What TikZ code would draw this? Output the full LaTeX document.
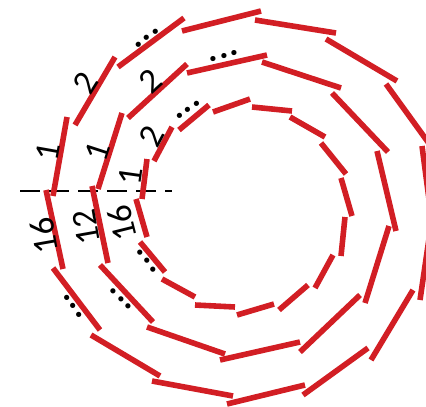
\documentclass[tikz,border=0pt]{standalone}
\usepackage{fontspec}
\setmainfont{Carlito}
\definecolor{segred}{RGB}{210,30,36}
\newcommand{\ringdots}{\textbf{.\kern1.2pt.\kern1.2pt.}}
\begin{document}
\begin{tikzpicture}[x=1pt,y=-1pt,
  seg/.style={draw=segred,line width=5.6pt,line cap=butt},
  lab/.style={font=\fontsize{35}{35}\selectfont,inner sep=0pt,text=black},
  cutline/.style={draw=black,line width=2.4pt,dash pattern=on 20pt off 9pt}]
\useasboundingbox (0,0) rectangle (426,407);
\clip (0,0) rectangle (426,407);
% dashed reference line
\coordinate (dl) at (20,191);
\coordinate (dr) at (172,191);
\draw[cutline] (dl) -- (dr);
% outer ring (16)
\foreach \a/\b in {
  {(53,196)}/{(67,117)}, {(75,125)}/{(115,57)}, {(118,67)}/{(184,18)},
  {(182,31)}/{(261,11)}, {(255,20)}/{(336,33)}, {(326,39)}/{(397,81)},
  {(386,84)}/{(433,149)}, {(422,146)}/{(432,222)}, {(430,232)}/{(420,300)},
  {(413,290)}/{(371,360)}, {(368,348)}/{(303,395)}, {(305,385)}/{(227,404)},
  {(233,396)}/{(152,381)}, {(160,376)}/{(91,335)}, {(100,330)}/{(53,268)},
  {(63,269)}/{(46,190)}}
  \draw[seg] \a -- \b;
% middle ring (12)
\foreach \a/\b in {
  {(98,189)}/{(122,113)}, {(128,118)}/{(187,64)}, {(187,73)}/{(267,55)},
  {(262,62)}/{(341,88)}, {(332,93)}/{(388,152)}, {(377,151)}/{(396,231)},
  {(389,226)}/{(365,303)}, {(360,295)}/{(300,352)}, {(300,342)}/{(220,360)},
  {(225,354)}/{(147,327)}, {(153,322)}/{(100,265)}, {(108,263)}/{(92,186)}}
  \draw[seg] \a -- \b;
% inner ring (16)
\foreach \a/\b in {
  {(142,199)}/{(147,159)}, {(154,161)}/{(172,127)}, {(179,130)}/{(209,105)},
  {(213,112)}/{(250,99)}, {(252,107)}/{(292,111)}, {(290,117)}/{(325,137)},
  {(321,143)}/{(346,174)}, {(341,178)}/{(352,216)}, {(345,217)}/{(341,256)},
  {(333,255)}/{(315,288)}, {(308,285)}/{(279,310)}, {(274,304)}/{(237,315)},
  {(235,307)}/{(195,305)}, {(195,297)}/{(162,279)}, {(165,272)}/{(140,242)},
  {(147,237)}/{(136,199)}}
  \draw[seg] \a -- \b;
% labels
\node[lab,rotate=80]  (o1)  at (48,152) {1};
\node[lab,rotate=58]  (o2)  at (86,83)  {2};
\node[lab,rotate=38]  (od)  at (147,38) {\ringdots};
\node[lab,rotate=72]  (m1)  at (98,152) {1};
\node[lab,rotate=42]  (m2)  at (150,81) {2};
\node[lab,rotate=15]  (md)  at (224,56) {\ringdots};
\node[lab,rotate=82]  (i1)  at (131,176) {1};
\node[lab,rotate=62]  (i2)  at (152,136) {2};
\node[lab,rotate=36]  (id)  at (188,110) {\ringdots};
\node[lab,rotate=100] (o16) at (44,236) {16};
\node[lab,rotate=100] (m12) at (86,227) {12};
\node[lab,rotate=104] (i16) at (122,223) {16};
\node[lab,rotate=-54] (odb) at (73,306) {\ringdots};
\node[lab,rotate=-47] (mdb) at (121,299) {\ringdots};
\node[lab,rotate=-51] (idb) at (147,261) {\ringdots};
\end{tikzpicture}
\end{document}
